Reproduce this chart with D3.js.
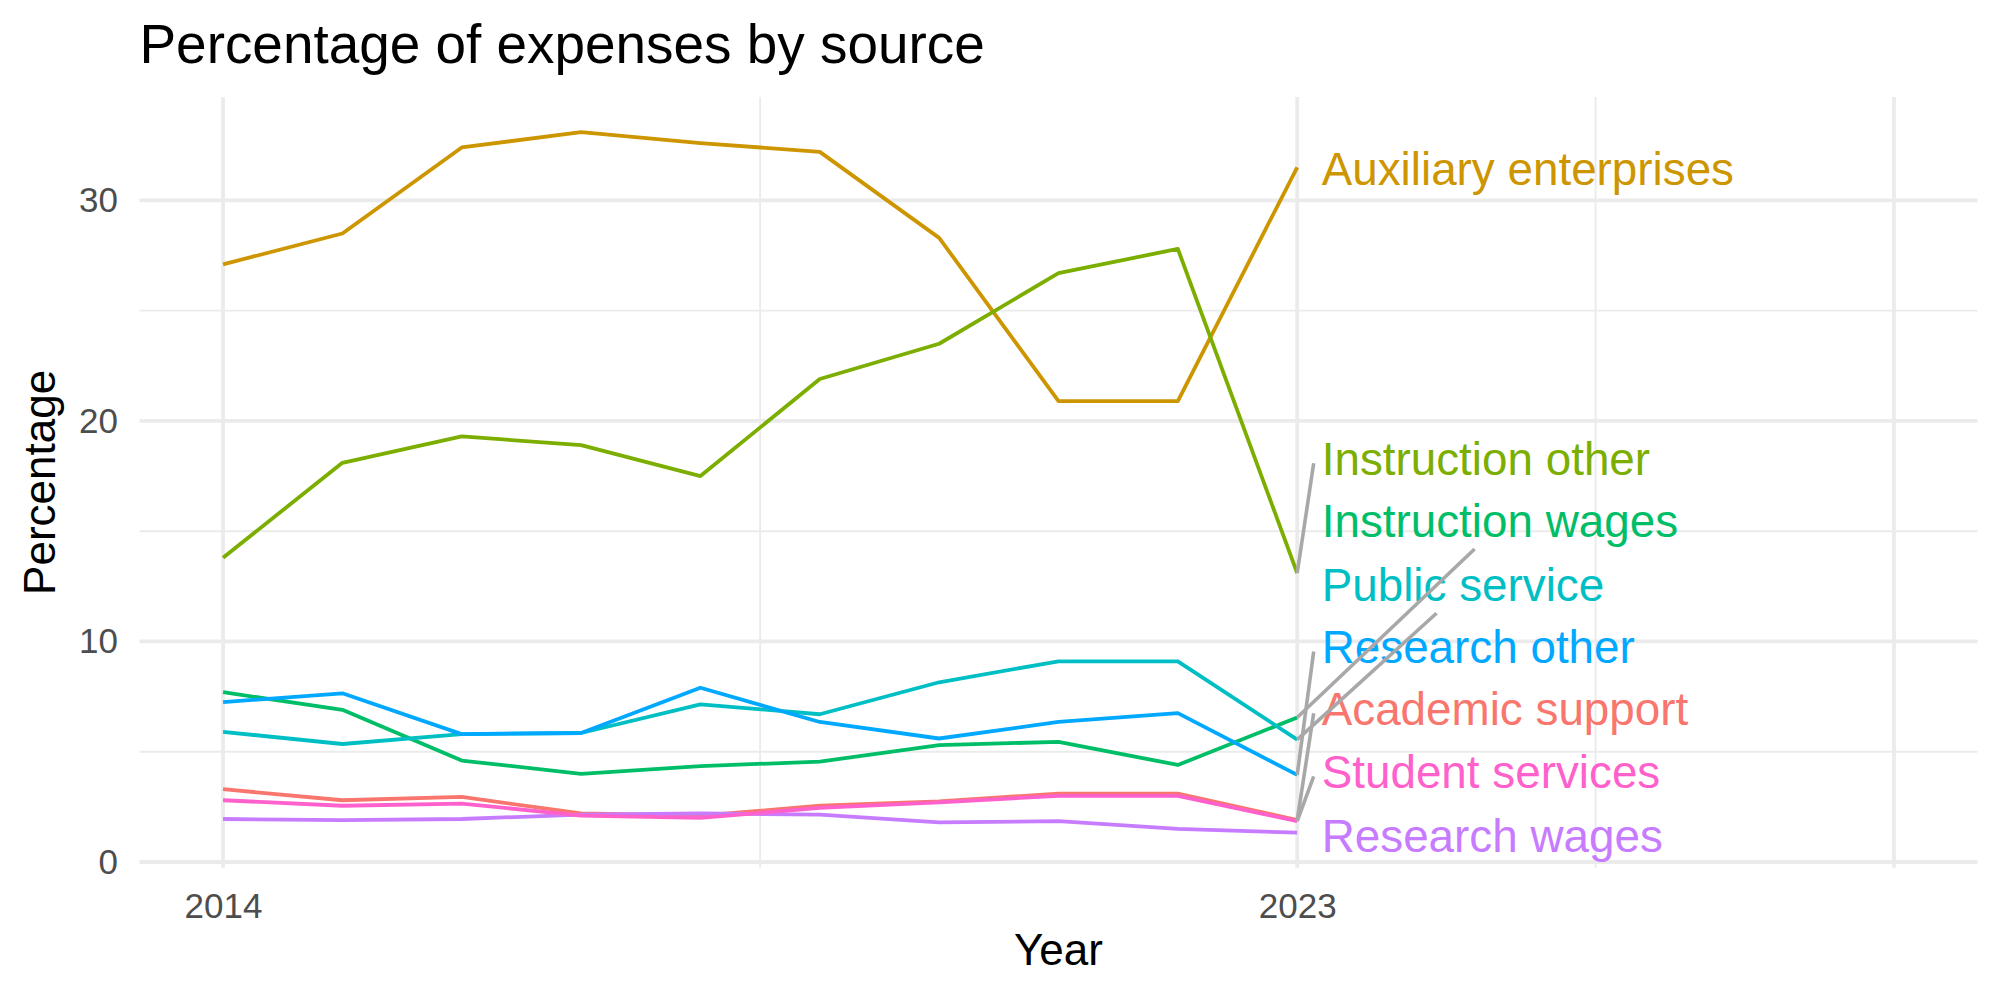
<!DOCTYPE html>
<html>
<head>
<meta charset="utf-8">
<script src="https://cdn.jsdelivr.net/npm/d3@7/dist/d3.min.js"></script>
<style>
  body { margin: 0; background: #ffffff; }
  text { font-family: "Liberation Sans", Arial, sans-serif; }
</style>
</head>
<body>
<svg id="chart" width="2000" height="1000"></svg>
<script>
// data
const years = [2014, 2015, 2016, 2017, 2018, 2019, 2020, 2021, 2022, 2023];
const academicSupport  = [3.3, 2.8, 2.95, 2.2, 2.1, 2.55, 2.75, 3.1, 3.1, 1.9];
const auxiliary        = [27.1, 28.5, 32.4, 33.1, 32.6, 32.2, 28.3, 20.9, 20.9, 31.5];
const instructionOther = [13.8, 18.1, 19.3, 18.9, 17.5, 21.9, 23.5, 26.7, 27.8, 13.1];
const instructionWages = [7.7, 6.9, 4.6, 4.0, 4.35, 4.55, 5.3, 5.45, 4.4, 6.55];
const publicService    = [5.9, 5.35, 5.8, 5.85, 7.15, 6.7, 8.15, 9.1, 9.1, 5.55];
const researchOther    = [7.25, 7.65, 5.8, 5.85, 7.9, 6.35, 5.6, 6.35, 6.75, 3.95];
const researchWages    = [1.95, 1.9, 1.95, 2.15, 2.2, 2.15, 1.8, 1.85, 1.5, 1.33];
const studentServices  = [2.8, 2.55, 2.65, 2.1, 2.0, 2.45, 2.7, 3.0, 3.0, 1.85];

const seriesNames = ["Academic support", "Auxiliary enterprises", "Instruction other", "Instruction wages",
    "Public service", "Research other", "Research wages", "Student services"];
const seriesValues = [academicSupport, auxiliary, instructionOther, instructionWages,
    publicService, researchOther, researchWages, studentServices];
// where the repelled labels ended up (percentage units)
const labelY = [6.93, 31.42, 18.26, 15.46, 12.55, 9.73, 1.19, 4.06];

const xLimits = [2014, 2028];
const xMajorGrid = [2014, 2023, 2028];
const xTickLabels = [2014, 2023];
const yTicks = [0, 10, 20, 30];

// ggplot default hue palette
const colors = ["#F8766D", "#CD9600", "#7CAE00", "#00BE67", "#00BFC4", "#00A9FF", "#C77CFF", "#FF61CC"];

const series = seriesNames.map((name, i) => ({
    name: name,
    color: colors[i],
    labelY: labelY[i],
    values: seriesValues[i].map((v, j) => ({ year: years[j], value: v }))
}));

const svg = d3.select("#chart");
const panel = { left: 139.5, right: 1977.5, top: 97, bottom: 867.7 };

const expand = ([a, b]) => { const e = (b - a) * 0.05; return [a - e, b + e]; };

const x = d3.scaleLinear().domain(expand(xLimits)).range([panel.left, panel.right]);
const allValues = seriesValues.flat();
const y = d3.scaleLinear().domain(expand(d3.extent(allValues))).range([panel.bottom, panel.top]);

// grid
const grid = svg.append("g").attr("class", "grid");
const midpoints = arr => arr.slice(1).map((v, i) => (v + arr[i]) / 2);
const yMinor = midpoints(yTicks).filter(v => v > y.domain()[0] && v < y.domain()[1]);

grid.selectAll(".y-minor").data(yMinor).enter().append("line")
    .attr("x1", panel.left).attr("x2", panel.right)
    .attr("y1", d => y(d)).attr("y2", d => y(d))
    .attr("stroke", "#ebebeb").attr("stroke-width", 1.9);
grid.selectAll(".x-minor").data(midpoints(xMajorGrid)).enter().append("line")
    .attr("x1", d => x(d)).attr("x2", d => x(d))
    .attr("y1", panel.top).attr("y2", panel.bottom)
    .attr("stroke", "#ebebeb").attr("stroke-width", 1.9);
grid.selectAll(".y-major").data(yTicks).enter().append("line")
    .attr("x1", panel.left).attr("x2", panel.right)
    .attr("y1", d => y(d)).attr("y2", d => y(d))
    .attr("stroke", "#ebebeb").attr("stroke-width", 3.8);
grid.selectAll(".x-major").data(xMajorGrid).enter().append("line")
    .attr("x1", d => x(d)).attr("x2", d => x(d))
    .attr("y1", panel.top).attr("y2", panel.bottom)
    .attr("stroke", "#ebebeb").attr("stroke-width", 3.8);

// axes
const yAxis = d3.axisLeft(y).tickValues(yTicks).tickSize(0).tickPadding(21.5);
const xAxis = d3.axisBottom(x).tickValues(xTickLabels).tickFormat(d3.format("d")).tickSize(0).tickPadding(25.5);

svg.append("g").attr("class", "y-axis")
    .attr("transform", `translate(${panel.left},0)`)
    .call(yAxis);
svg.append("g").attr("class", "x-axis")
    .attr("transform", `translate(0,${panel.bottom})`)
    .call(xAxis);
svg.selectAll(".domain").remove();
svg.selectAll(".y-axis text, .x-axis text")
    .style("font-size", "35px")
    .style("font-family", "'Liberation Sans', Arial, sans-serif")
    .attr("fill", "#4d4d4d");

// lines
const line = d3.line().x(d => x(d.year)).y(d => y(d.value));
svg.append("g").attr("class", "lines")
    .selectAll("path").data(series).enter().append("path")
    .attr("d", d => line(d.values))
    .attr("fill", "none")
    .attr("stroke", d => d.color)
    .attr("stroke-width", 3.8)
    .attr("stroke-linejoin", "round");

// end labels
const lastYear = years[years.length - 1];
const labelX = x(lastYear) + 24.5;
const labels = svg.append("g").attr("class", "labels");
labels.selectAll("text").data(series).enter().append("text")
    .attr("x", labelX)
    .attr("y", d => y(d.labelY))
    .attr("dy", "0.35em")
    .attr("fill", d => d.color)
    .style("font-size", "45.8px")
    .text(d => d.name);

// connector segments, from the last point to the label box (ggrepel-like)
const segs = [];
labels.selectAll("text").each(function (d) {
    const w = this.getComputedTextLength();
    const px = x(lastYear);
    const py = y(d.values[d.values.length - 1].value);
    const bx0 = labelX - 8, bx1 = labelX + w + 8;
    const cy = y(d.labelY) + 4;
    const by0 = cy - 24, by1 = cy + 24;
    const cx = (bx0 + bx1) / 2;
    const dx = cx - px, dy = cy - py;
    let ex, ey;
    if (Math.abs(dy) > 0.8 * Math.abs(dx)) {
        ey = dy < 0 ? by1 : by0;
        ex = px + (ey - py) / dy * dx;
    } else {
        ex = bx0;
        ey = cy;
    }
    if (Math.hypot(ex - px, ey - py) > 25) segs.push({ x1: px, y1: py, x2: ex, y2: ey });
});
svg.append("g").attr("class", "segments")
    .selectAll("line").data(segs).enter().append("line")
    .attr("x1", d => d.x1).attr("y1", d => d.y1)
    .attr("x2", d => d.x2).attr("y2", d => d.y2)
    .attr("stroke", "#a8a8a8")
    .attr("stroke-width", 3.6);

// titles
svg.append("text")
    .attr("x", panel.left).attr("y", 63)
    .style("font-size", "54.9px")
    .attr("fill", "#000")
    .text("Percentage of expenses by source");

svg.append("text")
    .attr("x", (panel.left + panel.right) / 2).attr("y", 965)
    .attr("text-anchor", "middle")
    .style("font-size", "44px")
    .attr("fill", "#000")
    .text("Year");

svg.append("text")
    .attr("transform", `translate(55,${(panel.top + panel.bottom) / 2}) rotate(-90)`)
    .attr("text-anchor", "middle")
    .style("font-size", "44px")
    .attr("fill", "#000")
    .text("Percentage");
</script>
</body>
</html>
